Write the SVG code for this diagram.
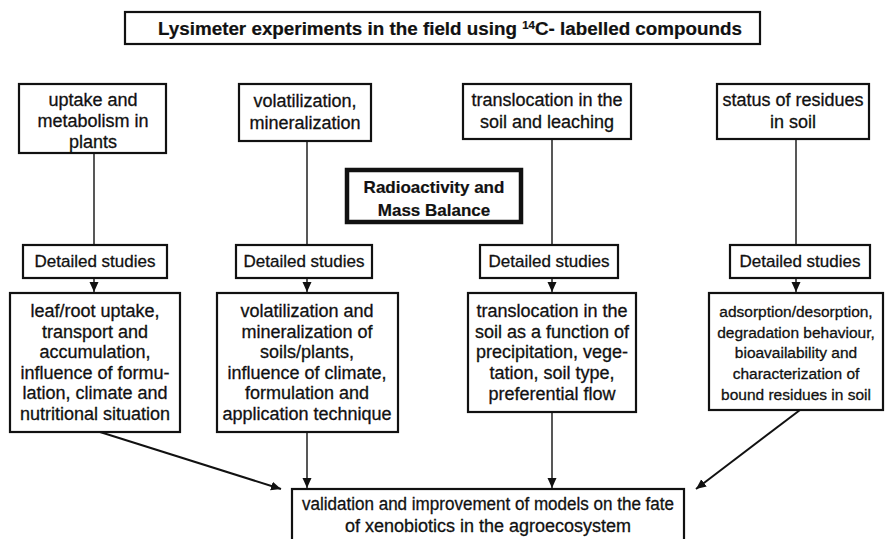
<svg xmlns="http://www.w3.org/2000/svg" width="885" height="539" viewBox="0 0 885 539">
<defs>
<marker id="ah" markerWidth="12" markerHeight="12" refX="10" refY="5.5" orient="auto" markerUnits="userSpaceOnUse">
<path d="M0,1 L10,5.5 L0,10 Z" fill="#111"/>
</marker>
<style>
.box{fill:#fff;stroke:#111;stroke-width:2.2}
.thick{fill:#fff;stroke:#111;stroke-width:4.5}
.t{font-family:"Liberation Sans",Arial,sans-serif;font-size:18px;fill:#111;stroke:#111;stroke-width:0.3;text-anchor:middle}
.s{font-size:17px}
.n{font-size:15.5px}
.b{font-weight:bold;stroke-width:0.2}
.c{fill:none;stroke:#111;stroke-width:1.4}
.d{fill:none;stroke:#111;stroke-width:2}
</style>
</defs>
<rect width="885" height="539" fill="#fff"/>
<g id="title">
<rect class="box" x="125" y="12" width="635" height="32"/>
<text class="t b" x="450" y="35" font-size="18" textLength="584" lengthAdjust="spacingAndGlyphs">Lysimeter experiments in the field using <tspan font-size="11" dy="-6">14</tspan><tspan dy="6">C- labelled compounds</tspan></text>
</g>
<g id="top1">
<rect class="box" x="19" y="84" width="147" height="69"/>
<text class="t" x="93" y="106">uptake and</text>
<text class="t" x="93" y="127">metabolism in</text>
<text class="t" x="93" y="148">plants</text>
</g>
<g id="top2">
<rect class="box" x="239" y="84" width="132" height="57"/>
<text class="t" x="305" y="107">volatilization,</text>
<text class="t" x="305" y="129">mineralization</text>
</g>
<g id="top3">
<rect class="box" x="463" y="84" width="168" height="55"/>
<text class="t" x="547" y="106">translocation in the</text>
<text class="t" x="547" y="128">soil and leaching</text>
</g>
<g id="top4">
<rect class="box" x="717" y="84" width="152" height="55"/>
<text class="t" x="793" y="106">status of residues</text>
<text class="t" x="793" y="128">in soil</text>
</g>
<g id="radio">
<rect class="thick" x="347" y="170" width="174" height="52"/>
<text class="t b s" x="434" y="193">Radioactivity and</text>
<text class="t b s" x="434" y="216">Mass Balance</text>
</g>
<g id="ds1">
<rect class="box" x="23" y="245" width="144" height="33"/>
<text class="t s" x="95" y="267">Detailed studies</text>
</g>
<g id="ds2">
<rect class="box" x="236" y="245" width="136" height="33"/>
<text class="t s" x="304" y="267">Detailed studies</text>
</g>
<g id="ds3">
<rect class="box" x="480" y="245" width="138" height="33"/>
<text class="t s" x="549" y="267">Detailed studies</text>
</g>
<g id="ds4">
<rect class="box" x="730" y="245" width="140" height="33"/>
<text class="t s" x="800" y="267">Detailed studies</text>
</g>
<g id="det1">
<rect class="box" x="10" y="293" width="170" height="139"/>
<text class="t" x="95" y="317">leaf/root uptake,</text>
<text class="t" x="95" y="338">transport and</text>
<text class="t" x="95" y="358">accumulation,</text>
<text class="t" x="95" y="379">influence of formu-</text>
<text class="t" x="95" y="399">lation, climate and</text>
<text class="t" x="95" y="420">nutritional situation</text>
</g>
<g id="det2">
<rect class="box" x="217" y="293" width="181" height="139"/>
<text class="t" x="307" y="317">volatilization and</text>
<text class="t" x="307" y="338">mineralization of</text>
<text class="t" x="307" y="358">soils/plants,</text>
<text class="t" x="307" y="379">influence of climate,</text>
<text class="t" x="307" y="399">formulation and</text>
<text class="t" x="307" y="420">application technique</text>
</g>
<g id="det3">
<rect class="box" x="468" y="293" width="168" height="119"/>
<text class="t" x="552" y="317">translocation in the</text>
<text class="t" x="552" y="338">soil as a function of</text>
<text class="t" x="552" y="358">precipitation, vege-</text>
<text class="t" x="552" y="379">tation, soil type,</text>
<text class="t" x="552" y="400">preferential flow</text>
</g>
<g id="det4">
<rect class="box" x="709" y="293" width="174" height="117"/>
<text class="t n" x="796" y="317">adsorption/desorption,</text>
<text class="t n" x="796" y="338">degradation behaviour,</text>
<text class="t n" x="796" y="358">bioavailability and</text>
<text class="t n" x="796" y="379">characterization of</text>
<text class="t n" x="796" y="400">bound residues in soil</text>
</g>
<g id="bottom">
<rect class="box" x="292" y="489" width="392" height="60"/>
<text class="t" x="488" y="510" font-size="16.5" textLength="372" lengthAdjust="spacingAndGlyphs">validation and improvement of models on the fate</text>
<text class="t" x="488" y="532" font-size="16.5">of xenobiotics in the agroecosystem</text>
</g>
<g id="connectors">
<line class="c" x1="94" y1="153" x2="94" y2="245"/>
<line class="c" x1="307" y1="141" x2="307" y2="245"/>
<line class="c" x1="552" y1="139" x2="552" y2="245"/>
<line class="c" x1="796" y1="139" x2="796" y2="245"/>
<line class="c" x1="94" y1="278" x2="94" y2="292" marker-end="url(#ah)"/>
<line class="c" x1="307" y1="278" x2="307" y2="292" marker-end="url(#ah)"/>
<line class="c" x1="552" y1="278" x2="552" y2="292" marker-end="url(#ah)"/>
<line class="c" x1="796" y1="278" x2="796" y2="292" marker-end="url(#ah)"/>
<line class="d" x1="100" y1="432" x2="281" y2="489" marker-end="url(#ah)"/>
<line class="c" x1="307" y1="432" x2="307" y2="488" marker-end="url(#ah)"/>
<line class="c" x1="552" y1="412" x2="552" y2="488" marker-end="url(#ah)"/>
<line class="d" x1="800" y1="410" x2="696" y2="489" marker-end="url(#ah)"/>
</g>
</svg>
